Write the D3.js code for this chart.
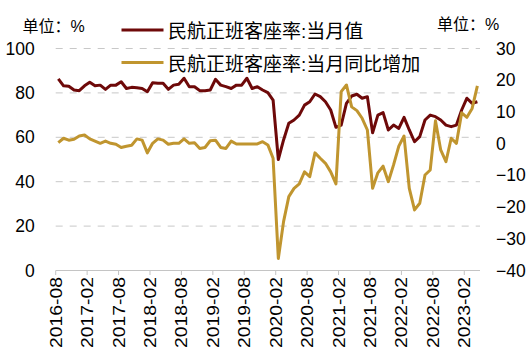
<!DOCTYPE html>
<html>
<head>
<meta charset="utf-8">
<script src="https://cdn.jsdelivr.net/npm/d3@7"></script>
<style>
    body { margin: 0; background: #fff; }
    svg { display: block; font-family: "Liberation Sans", Arial, "Noto Sans CJK SC", sans-serif; }
</style>
</head>
<body>
<svg id="chart"></svg>
<script>
// Monthly categories, 2016-08 .. 2023-04
const months = d3.timeMonths(new Date(2016, 7, 1), new Date(2023, 4, 1)).map(d3.timeFormat('%Y-%m'));

// 民航正班客座率:当月值 (%), left axis
const loadFactor = [
    86.3, 83.2, 83.0, 81.3, 81.0,
    83.2, 84.8, 83.2, 83.5, 81.6, 83.5, 83.5, 85.0, 82.0, 82.5, 82.3, 82.0,
    80.5, 84.6, 84.3, 84.3, 81.6, 83.5, 83.9, 86.6, 82.8, 82.8, 81.0, 81.0,
    81.3, 86.1, 83.5, 82.8, 82.0, 83.5, 83.5, 86.6, 82.0, 82.8, 81.3, 80.1,
    76.8, 50.0, 58.8, 66.3, 67.8, 70.0, 74.5, 76.0, 79.5, 78.3, 76.0, 72.3,
    64.5, 65.5, 75.3, 78.6, 79.4, 77.6, 78.3, 62.0, 70.0, 71.1, 63.3, 65.5,
    64.0, 69.0, 63.3, 58.0, 60.3, 67.8, 70.0, 69.3, 67.8, 65.5, 64.8, 65.5,
    72.3, 77.6, 75.3, 76.0
];

// 民航正班客座率:当月同比增加 (pct points), right axis
const yoyChange = [
    0.3, 1.7, 1.1, 1.4, 2.4,
    2.7, 1.5, 0.8, 0.1, 0.8, 0.1, -0.2, -1.2, -0.8, -0.5, 1.5, 1.1,
    -2.9, 0.1, 1.5, 1.1, -0.2, 0.1, 0.1, 1.5, 0.1, 0.3, -1.5, -1.2,
    0.9, 1.1, -1.2, -1.5, 0.8, -0.1, -0.1, -0.1, -0.1, -0.1, 0.6, -0.4,
    -4.6, -36.2, -24.6, -16.7, -14.1, -12.7, -8.9, -10.4, -2.9, -4.6, -6.2, -8.9,
    -12.7, 16.4, 18.5, 11.6, 10.4, 8.0, 4.3, -14.1, -9.2, -7.1, -12.0, -6.7,
    -0.8, 2.4, -14.1, -20.9, -18.8, -9.9, -8.3, 7.2, -2.0, -5.7, 1.7, 0.1,
    9.7, 8.3, 11.1, 18.2
];

const leftTicks = [0, 20, 40, 60, 80, 100];
const rightTicks = [-40, -30, -20, -10, 0, 10, 20, 30];
const seriesNames = ['民航正班客座率:当月值', '民航正班客座率:当月同比增加'];
const colors = ['#6e0909', '#c0952f'];

const width = 531, height = 354;
const margin = { top: 48.5, right: 51, bottom: 83.5, left: 55.7 };

const svg = d3.select('#chart')
    .attr('width', width)
    .attr('height', height);

const x = d3.scaleBand()
    .domain(months)
    .range([margin.left, width - margin.right])
    .padding(0);

const yLeft = d3.scaleLinear()
    .domain([0, 100])
    .range([height - margin.bottom, margin.top]);

const yRight = d3.scaleLinear()
    .domain([-40, 30])
    .range([height - margin.bottom, margin.top]);

// dashed gridlines (left axis)
svg.append('g')
    .selectAll('line')
    .data(leftTicks.filter(d => d > 0))
    .join('line')
    .attr('x1', margin.left)
    .attr('x2', width - margin.right)
    .attr('y1', d => yLeft(d))
    .attr('y2', d => yLeft(d))
    .attr('stroke', '#c8c8c8')
    .attr('stroke-width', 1)
    .attr('stroke-dasharray', '7,7');

// left axis labels
svg.append('g')
    .attr('transform', `translate(${margin.left},0)`)
    .call(d3.axisLeft(yLeft).tickValues(leftTicks).tickSize(0).tickPadding(21))
    .call(g => g.select('.domain').remove())
    .selectAll('text')
    .attr('font-size', 17.5)
    .attr('font-family', '"Liberation Sans", Arial, sans-serif')
    .attr('fill', '#000');

// right axis labels
svg.append('g')
    .attr('transform', `translate(${width - margin.right},0)`)
    .call(d3.axisRight(yRight).tickValues(rightTicks).tickSize(0).tickPadding(16))
    .call(g => g.select('.domain').remove())
    .selectAll('text')
    .attr('font-size', 17.5)
    .attr('font-family', '"Liberation Sans", Arial, sans-serif')
    .attr('fill', '#000');

// bottom axis: line, ticks at band starts every 6 months, rotated labels
const baseY = yLeft(0);
const tickMonths = months.filter((d, i) => i % 6 === 0);

const xAxis = svg.append('g');
xAxis.append('line')
    .attr('x1', margin.left)
    .attr('x2', width - margin.right)
    .attr('y1', baseY)
    .attr('y2', baseY)
    .attr('stroke', '#c4c4c4')
    .attr('stroke-width', 1);

xAxis.selectAll('.tick')
    .data(tickMonths)
    .join('line')
    .attr('class', 'tick')
    .attr('x1', d => x(d))
    .attr('x2', d => x(d))
    .attr('y1', baseY)
    .attr('y2', baseY + 4.5)
    .attr('stroke', '#c4c4c4');

xAxis.selectAll('.tick-label')
    .data(tickMonths)
    .join('text')
    .attr('class', 'tick-label')
    .attr('transform', d => `translate(${x(d)},${baseY + 6.5}) rotate(-90)`)
    .attr('text-anchor', 'end')
    .attr('dy', '0.36em')
    .attr('font-size', 16.5)
    .attr('textLength', 71)
    .attr('lengthAdjust', 'spacingAndGlyphs')
    .text(d => d);

// lines
const series = [
    { values: loadFactor, y: yLeft },
    { values: yoyChange, y: yRight }
];

series.forEach((s, k) => {
    const line = d3.line()
        .x((d, i) => x(months[i]) + x.bandwidth() / 2)
        .y(d => s.y(d));

    svg.append('path')
        .datum(s.values)
        .attr('d', line)
        .attr('fill', 'none')
        .attr('stroke', colors[k])
        .attr('stroke-width', 3)
        .attr('stroke-linejoin', 'round');
});

// unit labels
svg.append('text')
    .attr('x', 22.5)
    .attr('y', 32)
    .attr('font-size', 16)
    .text('单位：%');

svg.append('text')
    .attr('x', 437)
    .attr('y', 30)
    .attr('font-size', 16)
    .text('单位：%');

// legend
const legend = svg.append('g');
const legendRows = [30, 62.5];

legend.selectAll('line')
    .data(seriesNames)
    .join('line')
    .attr('x1', 121.5)
    .attr('x2', 163.5)
    .attr('y1', (d, i) => legendRows[i])
    .attr('y2', (d, i) => legendRows[i])
    .attr('stroke', (d, i) => colors[i])
    .attr('stroke-width', 3);

legend.selectAll('text')
    .data(seriesNames)
    .join('text')
    .attr('x', 168)
    .attr('y', (d, i) => legendRows[i] + 8)
    .attr('font-size', 19)
    .text(d => d);
</script>
</body>
</html>
